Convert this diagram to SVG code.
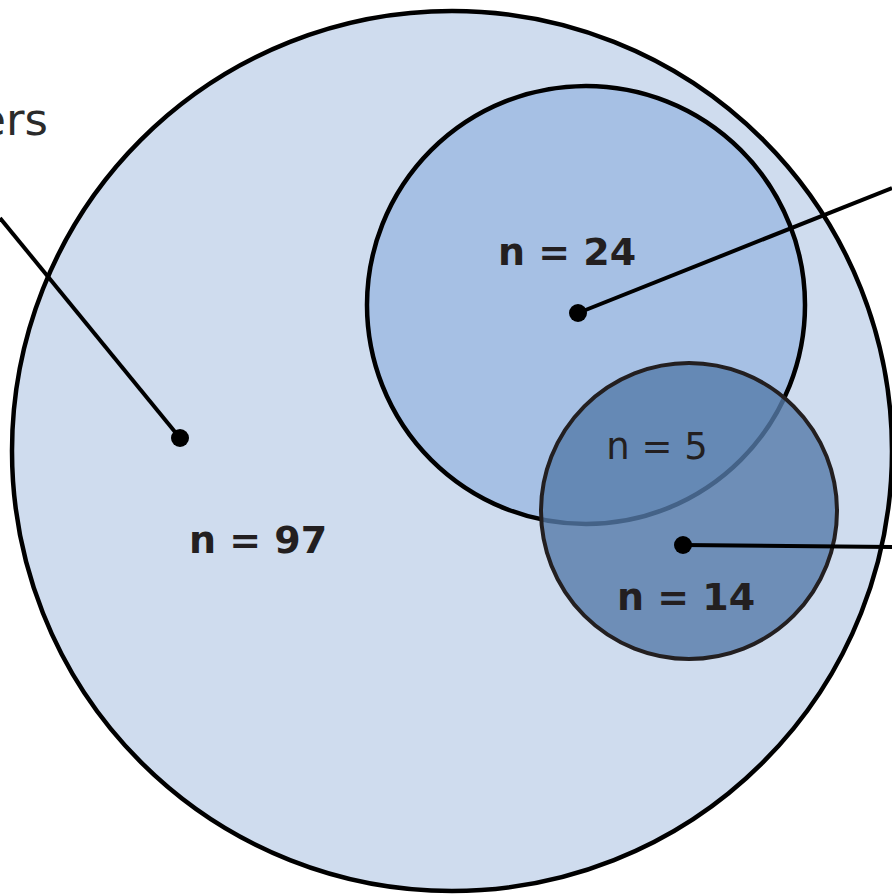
<svg xmlns="http://www.w3.org/2000/svg" width="892" height="896" viewBox="0 0 892 896">
<style>
.c{stroke-width:4.5}
.lbl{font-family:"DejaVu Sans",Verdana,sans-serif;fill:#231f20;text-anchor:middle}
.b{font-weight:bold;font-size:38px}
.r{font-size:37px}
.ln{stroke:#000;stroke-width:4;fill:none}
.dot{fill:#000}
</style>
<rect width="892" height="896" fill="#fff"/>
<text x="48" y="135" style="font-family:'DejaVu Sans',Verdana,sans-serif;font-size:45px;fill:#2b2b2b;text-anchor:end">ers</text>
<g id="all">
<circle class="c" cx="452" cy="451" r="440" fill="#cfdcee" stroke="#000"/>
<text class="lbl b" x="258" y="553">n = 97</text>
</g>
<g id="group24">
<circle class="c" cx="586" cy="305" r="219" fill="#a6c0e4" stroke="#000"/>
<text class="lbl b" x="567" y="265">n = 24</text>
</g>
<g id="group14">
<circle cx="689" cy="511" r="148" fill="#557aa9" fill-opacity="0.8" stroke="#231f20" stroke-width="4"/>
<text class="lbl b" x="686" y="610">n = 14</text>
</g>
<g id="overlap">
<text class="lbl r" x="657" y="459">n = 5</text>
</g>
<g id="connectors">
<line class="ln" x1="0" y1="218" x2="180" y2="438"/>
<circle class="dot" cx="180" cy="438" r="9"/>
<line class="ln" x1="578" y1="313" x2="892" y2="188"/>
<circle class="dot" cx="578" cy="313" r="9"/>
<line class="ln" x1="683" y1="545" x2="892" y2="547"/>
<circle class="dot" cx="683" cy="545" r="9"/>
</g>
</svg>
